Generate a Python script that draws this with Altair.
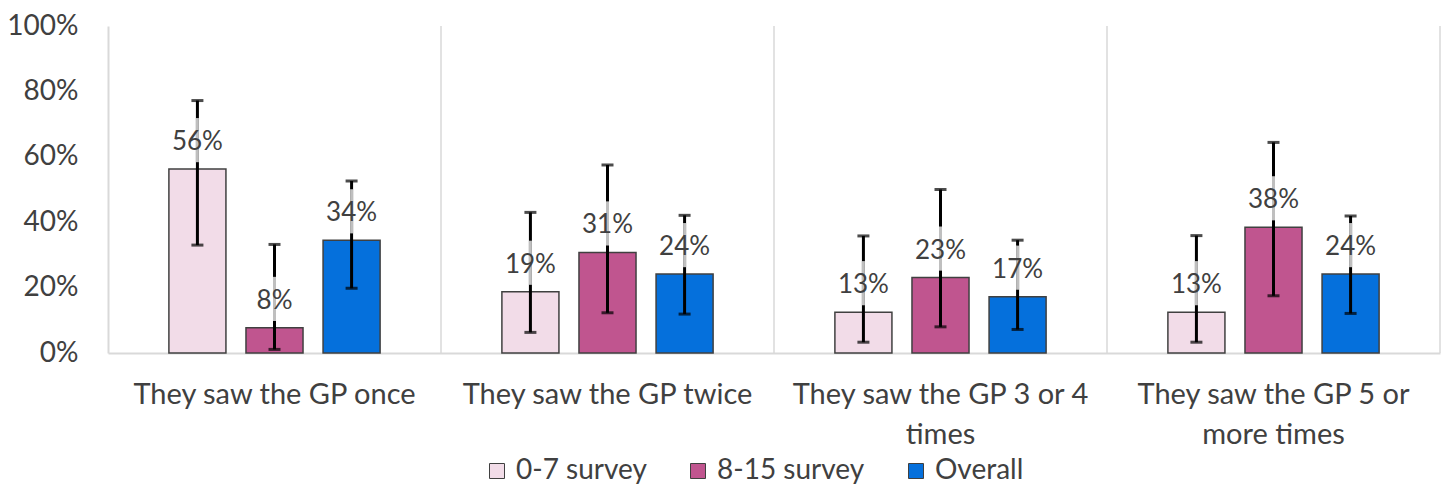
import altair as alt
import pandas as pd

categories = [
    "They saw the GP once",
    "They saw the GP twice",
    "They saw the GP 3 or 4 times",
    "They saw the GP 5 or more times",
]
label_lines = ["They saw the GP once", "They saw the GP twice",
               "They saw the GP 3 or 4|times", "They saw the GP 5 or|more times"]
series = ["0-7 survey", "8-15 survey", "Overall"]
colors = ["#F2DCE8", "#C0558F", "#0570DC"]

values_07 = [56.25, 18.75, 12.5, 12.5]
values_815 = [7.69, 30.77, 23.08, 38.46]
values_all = [34.48, 24.14, 17.24, 24.14]

low_07 = [33.0, 6.3, 3.3, 3.3]
high_07 = [77.2, 43.0, 35.8, 35.9]
low_815 = [1.1, 12.3, 8.0, 17.5]
high_815 = [33.2, 57.5, 50.0, 64.4]
low_all = [19.8, 11.9, 7.2, 12.1]
high_all = [52.6, 42.1, 34.5, 41.9]

rows = []
for s, vals, lo, hi in [
    (series[0], values_07, low_07, high_07),
    (series[1], values_815, low_815, high_815),
    (series[2], values_all, low_all, high_all),
]:
    for c, v, l, h in zip(categories, vals, lo, hi):
        rows.append({"category": c, "series": s, "value": v, "lo": l, "hi": h})
df = pd.DataFrame(rows)
cat_df = pd.DataFrame({"category": categories})

W, H = 1332, 327
FONT = "Lato"
TXT = "#404040"
GRID = "#d9d9d9"

label_map = "{" + ",".join(f"'{c}': '{l}'" for c, l in zip(categories, label_lines)) + "}"

x_enc = alt.X(
    "category:N",
    sort=categories,
    scale=alt.Scale(paddingInner=0, paddingOuter=0),
    axis=alt.Axis(
        title=None,
        labelAngle=0,
        labelAlign="center",
        labelBaseline="top",
        ticks=False,
        domainColor=GRID,
        domainWidth=2,
        labelFont=FONT,
        labelFontSize=29,
        labelColor=TXT,
        labelPadding=27,
        labelLineHeight=40,
        labelLimit=500,
        labelExpr=f"split({label_map}[datum.label], '|')",
    ),
)
xo_enc = alt.XOffset("series:N", sort=series,
                     scale=alt.Scale(paddingInner=0.26, paddingOuter=0.79))
y_scale = alt.Scale(domain=[0, 100])

base = alt.Chart(df)

bars = base.mark_bar(stroke="#404040", strokeWidth=1.5).encode(
    x=x_enc,
    xOffset=xo_enc,
    y=alt.Y(
        "value:Q",
        scale=y_scale,
        axis=alt.Axis(
            title=None,
            values=[0, 20, 40, 60, 80, 100],
            labelExpr="datum.value + '%'",
            grid=False,
            ticks=False,
            domainColor=GRID,
            domainWidth=2,
            labelFont=FONT,
            labelFontSize=28,
            labelColor=TXT,
            labelPadding=30,
            minExtent=100,
            maxExtent=100,
        ),
    ),
    color=alt.Color(
        "series:N",
        sort=series,
        scale=alt.Scale(domain=series, range=colors),
        legend=alt.Legend(
            title=None,
            orient="none",
            direction="horizontal",
            legendX=375,
            legendY=431,
            symbolType="square",
            symbolSize=225,
            symbolStrokeColor="#404040",
            symbolStrokeWidth=1,
            labelFont=FONT,
            labelFontSize=28,
            labelColor=TXT,
            labelOffset=5,
            columnPadding=37,
        ),
    ),
)

err = base.mark_rule(color="black", strokeWidth=3).encode(
    x=x_enc, xOffset=xo_enc, y=alt.Y("lo:Q", scale=y_scale), y2="hi:Q"
)
cap_hi = base.mark_tick(color="black", thickness=3, size=12, orient="horizontal").encode(
    x=x_enc, xOffset=xo_enc, y=alt.Y("hi:Q", scale=y_scale)
)
cap_lo = base.mark_tick(color="black", thickness=3, size=12, orient="horizontal").encode(
    x=x_enc, xOffset=xo_enc, y=alt.Y("lo:Q", scale=y_scale)
)
grey = base.transform_calculate(
    g1="max(datum.lo, datum.value + 2.1)",
    g2="min(datum.hi, datum.value + 15.6)",
).mark_rule(color="#bfbfbf", strokeWidth=3).encode(
    x=x_enc, xOffset=xo_enc, y=alt.Y("g1:Q", scale=y_scale), y2="g2:Q"
)
labels = base.transform_calculate(
    label="format(datum.value, '.0f') + '%'"
).mark_text(dy=-27, fontSize=26, font=FONT, color=TXT).encode(
    x=x_enc, xOffset=xo_enc, y=alt.Y("value:Q", scale=y_scale), text="label:N"
)

seps = alt.Chart(cat_df).mark_rule(color=GRID, strokeWidth=1.5).encode(
    x=alt.X("category:N", sort=categories, bandPosition=1),
    y=alt.value(0),
    y2=alt.value(H),
)

chart = alt.layer(bars, seps, err, grey, cap_hi, cap_lo, labels).properties(
    width=W,
    height=H,
    autosize=alt.AutoSizeParams(type="none"),
    padding={"left": 100, "top": 18, "right": 3, "bottom": 133},
).configure_view(stroke=None)

chart.save("out.html", embed_options={"renderer": "svg", "actions": False})
